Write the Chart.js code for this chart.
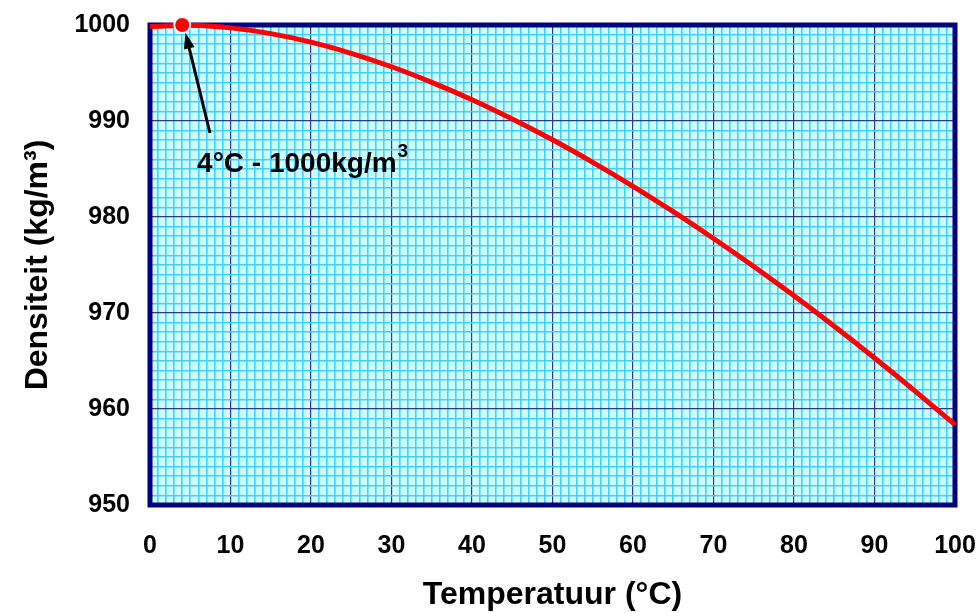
<!DOCTYPE html>
<html>
<head>
<meta charset="utf-8">
<script src="https://cdn.jsdelivr.net/npm/chart.js@4"></script>
<style>
  body { margin: 0; background: #fff; }
  #wrap { width: 978px; height: 613px; }
</style>
</head>
<body>
<div id="wrap"><canvas id="myChart" width="978" height="613"></canvas></div>
<script>
// water density vs temperature
const temperatures = [0, 5, 10, 15, 20, 25, 30, 35, 40, 45, 50, 55, 60, 65, 70, 75, 80, 85, 90, 95, 100];
const densities = [999.84, 999.97, 999.70, 999.10, 998.21, 997.05, 995.65, 994.03, 992.22, 990.21, 988.04,
  985.69, 983.20, 980.55, 977.76, 974.84, 971.79, 968.61, 965.31, 961.89, 958.35];
const markerPoint = [{ x: 4, y: 1000 }];
const markerLabel = '4°C - 1000kg/m';
const markerLabelSup = '3';
// arrow tail / tip and label anchor, in data units
const arrowFrom = { x: 7.45, y: 988.75 };
const arrowTo = { x: 4.4, y: 999.2 };
const labelAt = { x: 5.85, y: 985.5 };

const xMin = 0, xMax = 100, yMin = 950, yMax = 1000;

const FONT = 'Arial, "Liberation Sans", sans-serif';

const plotBackground = {
  id: 'plotBackground',
  beforeDraw(chart) {
    const { ctx, chartArea: a } = chart;
    ctx.save();
    ctx.fillStyle = '#ccffff';
    ctx.fillRect(a.left, a.top, a.right - a.left, a.bottom - a.top);
    ctx.restore();
  },
  beforeDatasetsDraw(chart) {
    const { ctx, chartArea: a } = chart;
    ctx.save();
    ctx.strokeStyle = '#000080';
    ctx.lineWidth = 5;
    ctx.strokeRect(a.left, a.top, a.right - a.left, a.bottom - a.top);
    ctx.restore();
  },
  afterDatasetsDraw(chart) {
    const { ctx, scales: { x, y } } = chart;
    const x1 = x.getPixelForValue(arrowFrom.x), y1 = y.getPixelForValue(arrowFrom.y);
    const x2 = x.getPixelForValue(arrowTo.x), y2 = y.getPixelForValue(arrowTo.y);
    const ang = Math.atan2(y2 - y1, x2 - x1);
    const head = 17;
    ctx.save();
    ctx.strokeStyle = '#000';
    ctx.fillStyle = '#000';
    ctx.lineWidth = 3;
    ctx.beginPath();
    ctx.moveTo(x1, y1);
    ctx.lineTo(x2 - Math.cos(ang) * head * 0.8, y2 - Math.sin(ang) * head * 0.8);
    ctx.stroke();
    ctx.beginPath();
    ctx.moveTo(x2, y2);
    ctx.lineTo(x2 - head * Math.cos(ang - 0.33), y2 - head * Math.sin(ang - 0.33));
    ctx.lineTo(x2 - head * Math.cos(ang + 0.33), y2 - head * Math.sin(ang + 0.33));
    ctx.closePath();
    ctx.fill();

    const lx = x.getPixelForValue(labelAt.x), ly = y.getPixelForValue(labelAt.y);
    ctx.font = 'bold 28px ' + FONT;
    ctx.textAlign = 'left';
    ctx.textBaseline = 'middle';
    ctx.fillText(markerLabel, lx, ly);
    const w = ctx.measureText(markerLabel).width;
    ctx.font = 'bold 19px ' + FONT;
    ctx.fillText(markerLabelSup, lx + w + 1, ly - 12);
    ctx.restore();
  }
};

const gridColor = (ctx) => (ctx.tick && ctx.tick.value % 10 === 0 ? '#333399' : '#40d0ff');
const gridWidth = (ctx) => (ctx.tick && ctx.tick.value % 10 === 0 ? 1.2 : 1.6);

new Chart(document.getElementById('myChart'), {
  type: 'line',
  data: {
    datasets: [
      {
        data: markerPoint,
        showLine: false,
        pointRadius: 8,
        pointBackgroundColor: '#ff0000',
        pointBorderColor: '#ffffff',
        pointBorderWidth: 2,
        clip: false
      },
      {
        data: temperatures.map((t, i) => ({ x: t, y: densities[i] })),
        borderColor: '#ff0000',
        borderWidth: 5,
        pointRadius: 0,
        cubicInterpolationMode: 'monotone',
        clip: false
      }
    ]
  },
  plugins: [plotBackground],
  options: {
    responsive: false,
    animation: false,
    layout: { padding: { top: 25, right: 23, left: 0, bottom: 0 } },
    plugins: { legend: { display: false }, tooltip: { enabled: false } },
    scales: {
      x: {
        type: 'linear',
        min: xMin,
        max: xMax,
        border: { display: false },
        grid: { color: gridColor, lineWidth: gridWidth, drawTicks: false },
        ticks: {
          stepSize: 1,
          autoSkip: false,
          maxRotation: 0,
          padding: 26,
          color: '#000',
          font: { family: FONT, size: 25, weight: 'bold' },
          callback: (v) => (v % 10 === 0 ? v : '')
        },
        title: {
          display: true,
          text: 'Temperatuur (°C)',
          color: '#000',
          font: { family: FONT, size: 32, weight: 'bold', lineHeight: 1 },
          padding: { top: 0, bottom: 2 }
        },
        afterFit(s) {
          s.height = 108;
          s.paddingLeft = 0; s.paddingRight = 0; s.paddingTop = 0; s.paddingBottom = 0;
        }
      },
      y: {
        type: 'linear',
        min: yMin,
        max: yMax,
        border: { display: false },
        grid: { color: gridColor, lineWidth: gridWidth, drawTicks: false },
        ticks: {
          stepSize: 1,
          autoSkip: false,
          padding: 20,
          color: '#000',
          font: { family: FONT, size: 25, weight: 'bold' },
          callback: (v) => (v % 10 === 0 ? v : '')
        },
        title: {
          display: true,
          text: 'Densiteit (kg/m³)',
          color: '#000',
          font: { family: FONT, size: 32, weight: 'bold', lineHeight: 1 },
          padding: { top: 22, bottom: 0 }
        },
        afterFit(s) {
          s.width = 150;
          s.paddingLeft = 0; s.paddingRight = 0; s.paddingTop = 0; s.paddingBottom = 0;
        }
      }
    }
  }
});
</script>
</body>
</html>
